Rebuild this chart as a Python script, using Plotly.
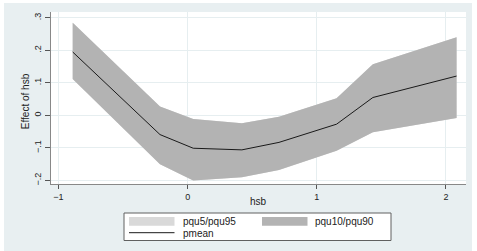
import plotly.graph_objects as go

# data
hsb = [-0.89, -0.214, 0.043, 0.42, 0.707, 1.153, 1.434, 2.082]
pmean = [0.195, -0.059, -0.101, -0.106, -0.083, -0.027, 0.055, 0.121]
pqu10 = [0.112, -0.150, -0.200, -0.190, -0.168, -0.109, -0.052, -0.008]
pqu90 = [0.285, 0.027, -0.011, -0.024, -0.004, 0.053, 0.157, 0.240]
pqu5 = pqu10
pqu95 = pqu90

yticks = [-0.2, -0.1, 0, 0.1, 0.2, 0.3]
yticklabels = ["\u2212.2", "\u2212.1", "0", ".1", ".2", ".3"]
xticks = [-1, 0, 1, 2]
xticklabels = ["\u22121", "0", "1", "2"]

W, H = 477, 251
L, R, T, B = 51, 11, 12, 67
pw, ph = W - L - R, H - T - B

BG = "#e8eff1"
LIGHT = "#d9d9d9"
DARK = "#b3b3b3"
FONT = "Liberation Sans"

fig = go.Figure()

def band(lo, hi, color, name):
    fig.add_trace(go.Scatter(
        x=hsb + hsb[::-1], y=hi + lo[::-1], fill="toself", fillcolor=color,
        line=dict(width=0), mode="lines", name=name, showlegend=False,
        hoverinfo="skip"))

band(pqu5, pqu95, LIGHT, "pqu5/pqu95")
band(pqu10, pqu90, DARK, "pqu10/pqu90")
fig.add_trace(go.Scatter(x=hsb, y=pmean, mode="lines",
                         line=dict(color="#1a1a1a", width=1), name="pmean",
                         showlegend=False))

def px2x(px):
    return (px - L) / pw

def py2y(py):
    return (T + ph - py) / ph

shapes = [
    # white outer frame around the graph region
    dict(type="rect", xref="paper", yref="paper", x0=px2x(-2), x1=px2x(4),
         y0=py2y(260), y1=py2y(-5), fillcolor="white", line=dict(width=0)),
    dict(type="rect", xref="paper", yref="paper", x0=px2x(-2), x1=px2x(480),
         y0=py2y(3), y1=py2y(-5), fillcolor="white", line=dict(width=0)),
    dict(type="rect", xref="paper", yref="paper", x0=px2x(472), x1=px2x(480),
         y0=py2y(260), y1=py2y(-5), fillcolor="white", line=dict(width=0)),
    # legend box
    dict(type="rect", xref="paper", yref="paper", x0=px2x(124), x1=px2x(391),
         y0=py2y(240.5), y1=py2y(213), fillcolor="white",
         line=dict(color="#606060", width=1)),
    dict(type="rect", xref="paper", yref="paper", x0=px2x(129), x1=px2x(174.5),
         y0=py2y(225.7), y1=py2y(217), fillcolor=LIGHT, line=dict(width=0)),
    dict(type="rect", xref="paper", yref="paper", x0=px2x(262), x1=px2x(307.5),
         y0=py2y(225.7), y1=py2y(217), fillcolor=DARK, line=dict(width=0)),
    dict(type="line", xref="paper", yref="paper", x0=px2x(129), x1=px2x(174.5),
         y0=py2y(232.7), y1=py2y(232.7), line=dict(color="#1a1a1a", width=1)),
]

annotations = [
    dict(text="pqu5/pqu95", x=px2x(181), y=py2y(221.3), xref="paper", yref="paper",
         xanchor="left", yanchor="middle", showarrow=False,
         font=dict(family=FONT, size=10, color="#222")),
    dict(text="pqu10/pqu90", x=px2x(313), y=py2y(221.3), xref="paper", yref="paper",
         xanchor="left", yanchor="middle", showarrow=False,
         font=dict(family=FONT, size=10, color="#222")),
    dict(text="pmean", x=px2x(181), y=py2y(233), xref="paper", yref="paper",
         xanchor="left", yanchor="middle", showarrow=False,
         font=dict(family=FONT, size=10, color="#222")),
    dict(text="hsb", x=0.5, y=py2y(201.5), xref="paper", yref="paper",
         xanchor="center", yanchor="middle", showarrow=False,
         font=dict(family=FONT, size=10, color="#222")),
    dict(text="Effect of hsb", x=px2x(25.5), y=py2y(101.7), xref="paper", yref="paper",
         xanchor="center", yanchor="middle", showarrow=False, textangle=-90,
         font=dict(family=FONT, size=10, color="#222")),
]

fig.update_layout(
    width=W, height=H, margin=dict(l=L, r=R, t=T, b=B),
    paper_bgcolor=BG, plot_bgcolor="white",
    font=dict(family=FONT, size=9, color="#222"),
    shapes=shapes, annotations=annotations, showlegend=False,
    xaxis=dict(range=[-1.058, 2.155], tickvals=xticks, ticktext=xticklabels,
               automargin=False,
               showgrid=True, gridcolor="#e6eef0", gridwidth=1,
               ticks="outside", ticklen=4, tickcolor="#555", showline=True,
               linecolor="#888", linewidth=1, zeroline=False,
               tickfont=dict(size=9)),
    yaxis=dict(range=[-0.211, 0.318], tickvals=yticks, ticktext=yticklabels,
               automargin=False,
               tickangle=-90, showgrid=True, gridcolor="#e6eef0", gridwidth=1,
               ticks="outside", ticklen=5, tickcolor="#555", showline=True,
               linecolor="#888", linewidth=1, zeroline=False,
               tickfont=dict(size=9)),
)

fig.write_html("out.html", config={"displayModeBar": False},
               post_script="document.body.style.margin='0';document.body.style.overflow='hidden';")
